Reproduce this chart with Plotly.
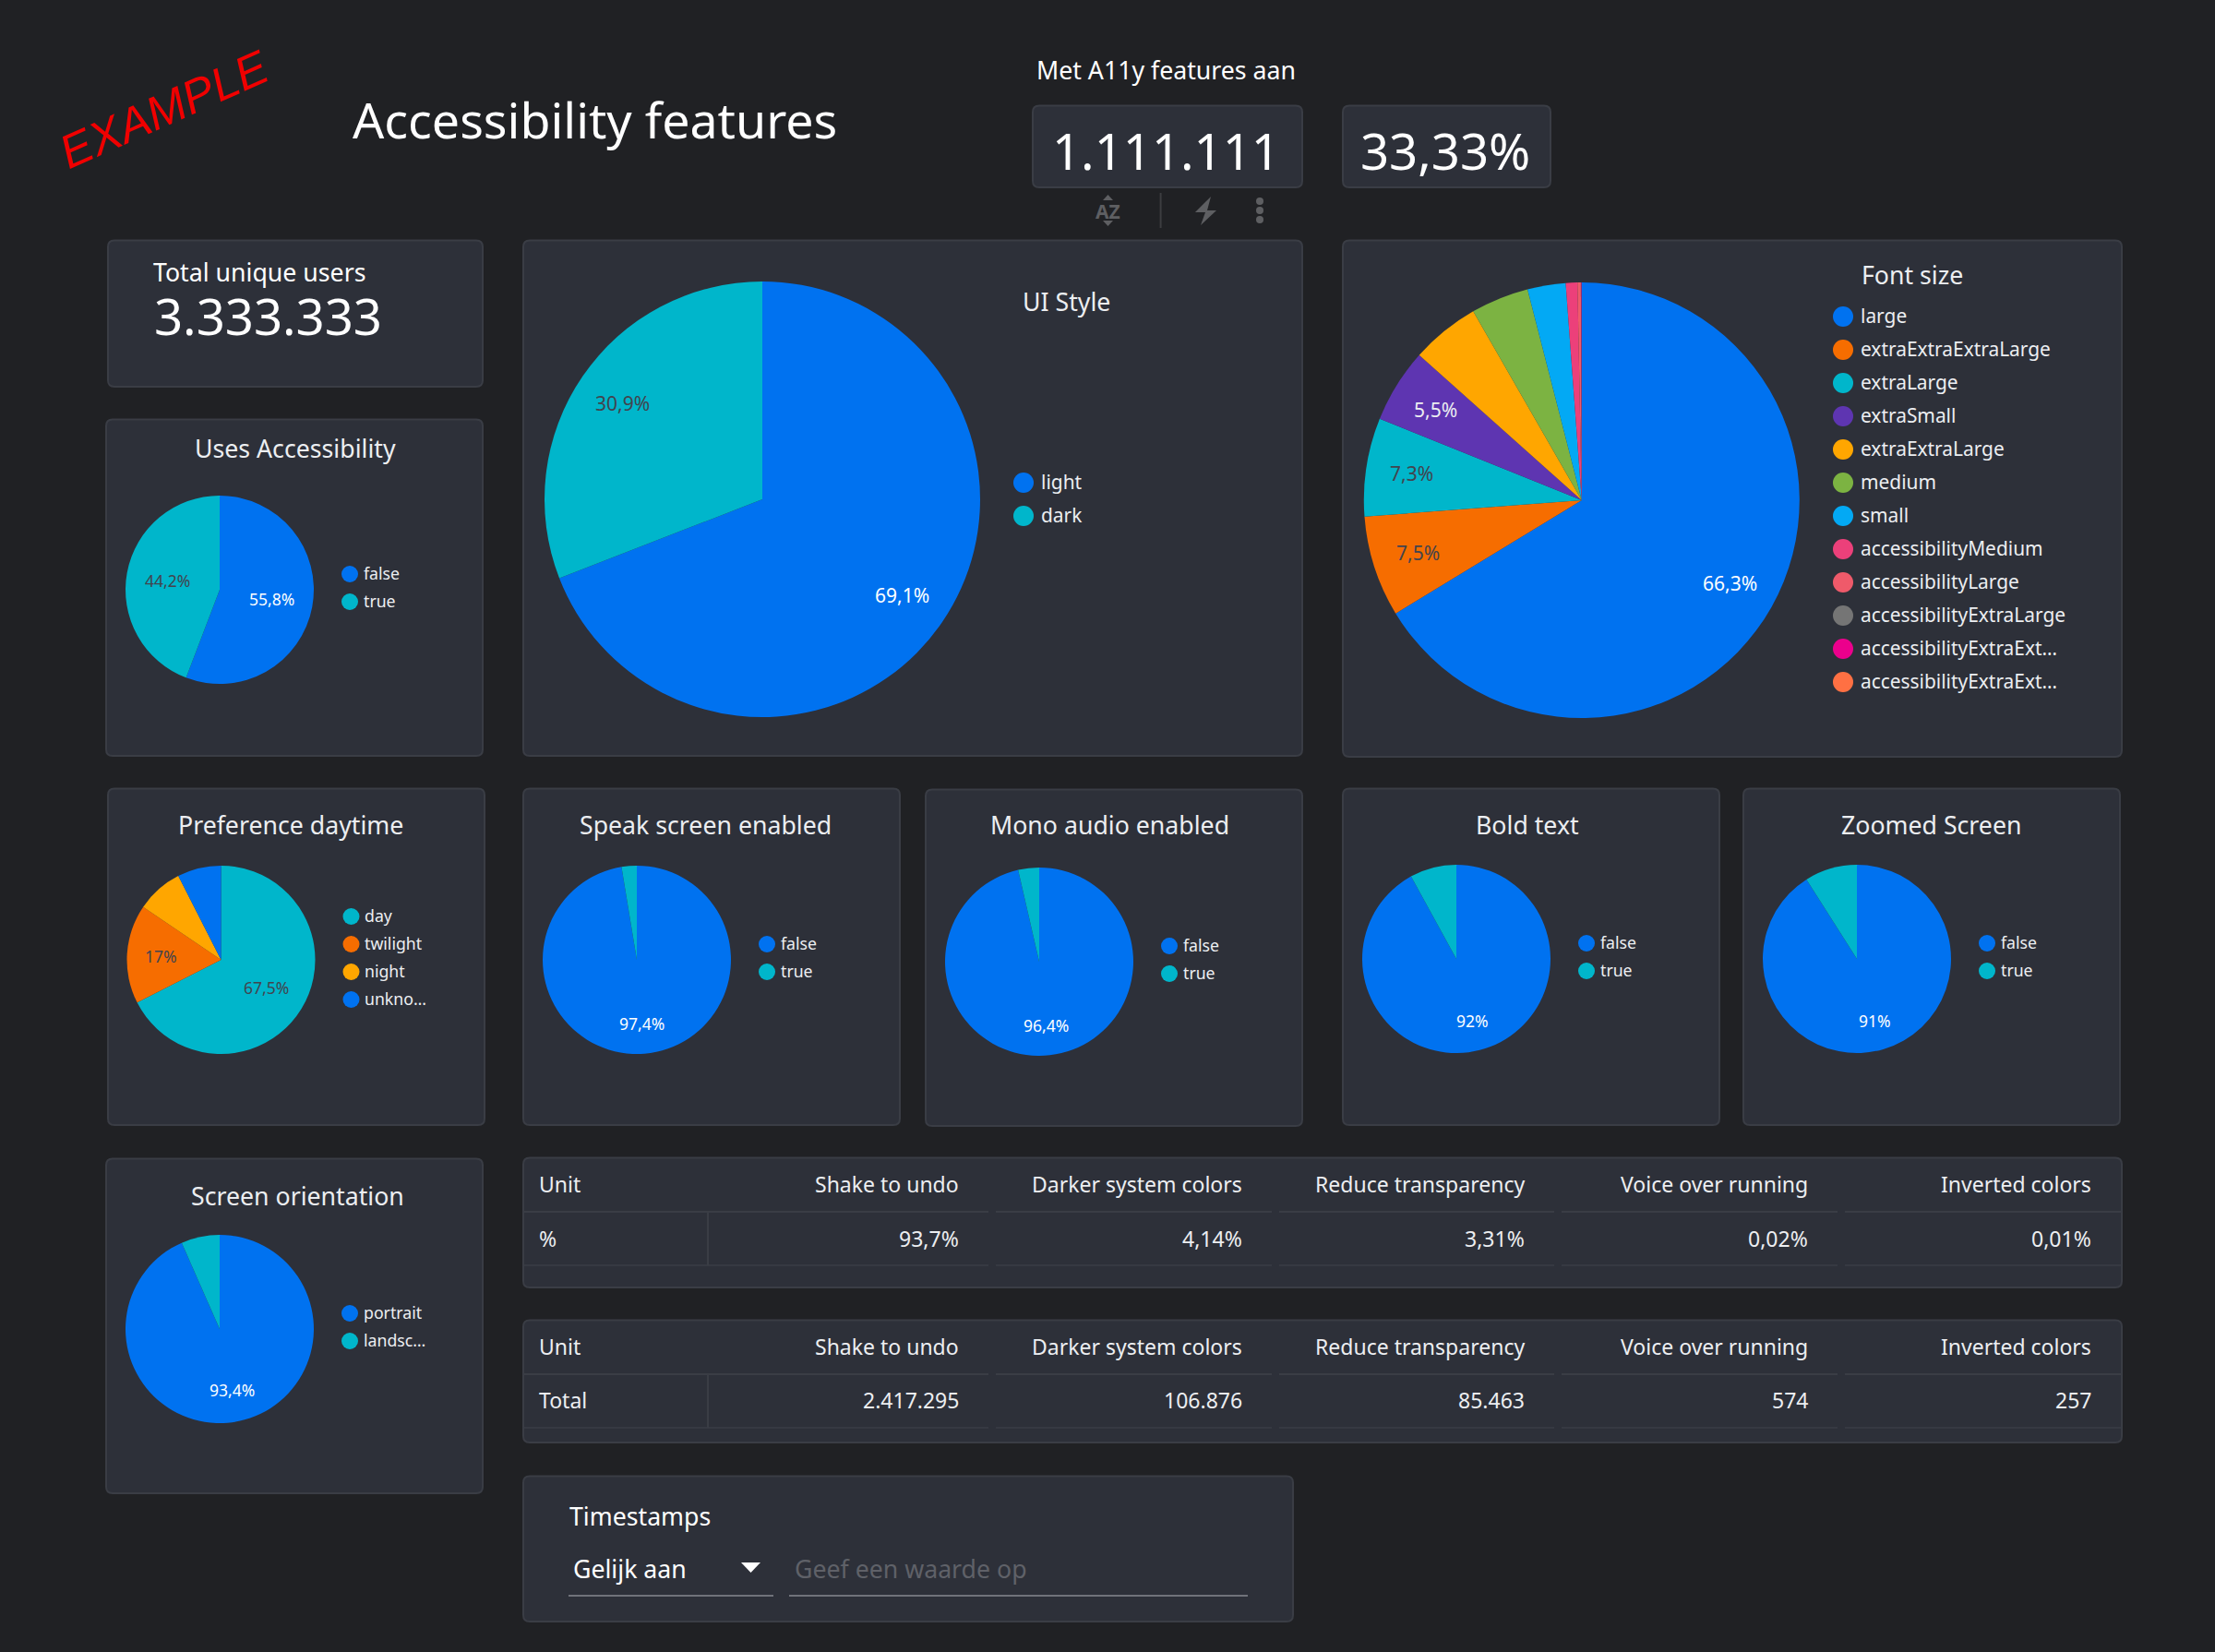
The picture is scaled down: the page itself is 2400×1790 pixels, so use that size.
"""
plot.py - accessibility features dashboard rebuilt with plotly
"""
import math
import plotly.graph_objects as go

W = 2400
H = 1790

BG = "#202124"
PANEL = "#2d3039"
BORDER = "#3a3d45"
WHITE = "#ffffff"
SOFT = "#eceef1"
DARK = "#42444e"
ICON = "#5e5f62"
FONT = "Noto Sans"

BLUE = "#0072f0"
CYAN = "#00b6cb"
ORANGE = "#f66d00"
GOLD = "#ffa600"
PURPLE = "#5e35b1"
GREEN = "#7cb342"
SKY = "#03a9f4"
PINK = "#ec407a"
CORAL = "#ef5a6a"
GREY = "#757575"
MAGENTA = "#ec008c"
SALMON = "#ff7043"

# data
ui_labels = ["light", "dark"]
ui_values = [69.1, 30.9]

font_labels = ["large", "extraExtraExtraLarge", "extraLarge", "extraSmall", "extraExtraLarge", "medium",
               "small", "accessibilityMedium", "accessibilityLarge", "accessibilityExtraLarge",
               "accessibilityExtraExt…", "accessibilityExtraExt…"]
font_values = [66.3, 7.5, 7.3, 5.5, 5.1, 4.3, 2.83, 0.86, 0.25, 0.03, 0.02, 0.01]

uses_labels = ["false", "true"]
uses_values = [55.8, 44.2]

daytime_labels = ["day", "twilight", "night", "unkno…"]
daytime_values = [67.5, 17.0, 8.0, 7.5]

speak_labels = ["false", "true"]
speak_values = [97.4, 2.6]

mono_labels = ["false", "true"]
mono_values = [96.4, 3.6]

bold_labels = ["false", "true"]
bold_values = [92.0, 8.0]

zoomed_labels = ["false", "true"]
zoomed_values = [91.0, 9.0]

orientation_labels = ["portrait", "landsc…"]
orientation_values = [93.4, 6.6]

table_columns = ["Unit", "Shake to undo", "Darker system colors", "Reduce transparency",
                 "Voice over running", "Inverted colors"]
percent_row = ["%", "93,7%", "4,14%", "3,31%", "0,02%", "0,01%"]
total_row = ["Total", "2.417.295", "106.876", "85.463", "574", "257"]

TITLE = 26.7
BIG = 54.4


def px(x):
    return x / W


def py(y):
    return 1 - y / H


shapes = []
annotations = []


def text(x, y, s, size, color=SOFT, anchor="left"):
    annotations.append(dict(
        x=px(x), y=py(y - 0.7), xref="paper", yref="paper", text=s, showarrow=False,
        xanchor=anchor, yanchor="middle", borderpad=0,
        font=dict(family=FONT, size=size, color=color),
    ))


def poly(points, color):
    path = "M " + " L ".join(f"{px(a):.5f} {py(b):.5f}" for a, b in points) + " Z"
    shapes.append(dict(type="path", path=path, xref="paper", yref="paper", fillcolor=color,
                       line=dict(width=0), layer="below"))


def line(x0, y0, x1, y1, color=BORDER, width=2):
    shapes.append(dict(type="line", x0=px(x0), y0=py(y0), x1=px(x1), y1=py(y1), xref="paper", yref="paper",
                       line=dict(color=color, width=width), layer="below"))


def dot(x, y, r, color):
    shapes.append(dict(type="circle", x0=px(x - r), y0=py(y - r), x1=px(x + r), y1=py(y + r),
                       xref="paper", yref="paper", fillcolor=color, line=dict(width=0), layer="below"))


def panel(x0, y0, x1, y1, c=7):
    path = (f"M {px(x0 + c):.5f} {py(y0):.5f} L {px(x1 - c):.5f} {py(y0):.5f} "
            f"Q {px(x1):.5f} {py(y0):.5f} {px(x1):.5f} {py(y0 + c):.5f} "
            f"L {px(x1):.5f} {py(y1 - c):.5f} Q {px(x1):.5f} {py(y1):.5f} {px(x1 - c):.5f} {py(y1):.5f} "
            f"L {px(x0 + c):.5f} {py(y1):.5f} Q {px(x0):.5f} {py(y1):.5f} {px(x0):.5f} {py(y1 - c):.5f} "
            f"L {px(x0):.5f} {py(y0 + c):.5f} Q {px(x0):.5f} {py(y0):.5f} {px(x0 + c):.5f} {py(y0):.5f} Z")
    shapes.append(dict(type="path", path=path, xref="paper", yref="paper", fillcolor=PANEL,
                       line=dict(color=BORDER, width=2), layer="below"))


fig = go.Figure()


def add_pie(cx, cy, r, labels, values, colors, label_at, label_size, label_colors):
    fig.add_trace(go.Pie(
        labels=labels, values=values, sort=False, direction="clockwise", rotation=0,
        marker=dict(colors=colors, line=dict(width=0)), textinfo="none", showlegend=False,
        domain=dict(x=[px(cx - r), px(cx + r)], y=[py(cy + r), py(cy - r)]),
    ))
    # percent labels sit on the middle angle of their slice
    total = sum(values)
    start = 0
    for idx, val, col in zip(range(len(values)), values, label_colors):
        mid = (start + val / 2) / total * 2 * math.pi
        start += val
        if idx in label_at:
            d = label_at[idx] * r
            s = f"{val / total * 100:.3g}%".replace(".", ",")
            text(cx + math.sin(mid) * d, cy - math.cos(mid) * d + 0.7, s, label_size, col, "center")


def add_legend(x, y, labels, colors, dy, rad, size, gap):
    for i, (lab, col) in enumerate(zip(labels, colors)):
        dot(x, y + i * dy, rad, col)
        text(x + gap, y + i * dy, lab, size)


def small_pie(cx, cy, labels, values, colors, label_at, label_colors):
    add_pie(cx, cy, 102, labels, values, colors, label_at, 17.5, label_colors)
    n = len(labels)
    add_legend(cx + 141, cy - 2 - 15 * (n - 1), labels, colors, 30, 9, 17.7, 13.5)


def add_table(y0, y1, y_head, y_line, y_row, y_line2, row):
    panel(567, y0, 2299, y1)
    rights = [583, 1040, 1347, 1653, 1960, 2267]
    spans = [(568, 1071), (1079, 1378), (1386, 1684), (1692, 1991), (1999, 2298)]
    for a, b in spans:
        line(a, y_line, b, y_line)
        line(a, y_line2, b, y_line2, "#363942")
    line(767, y_line, 767, y_line2)
    for i, (name, val) in enumerate(zip(table_columns, row)):
        anchor = "left" if i == 0 else "right"
        text(rights[i], y_head, name, 23, SOFT, anchor)
        text(rights[i], y_row, val, 23, SOFT, anchor)


# panels
panel(117, 260.5, 523, 419)
panel(567, 260.5, 1411, 819)
panel(1455, 260.5, 2299, 820)
panel(115, 454.5, 523, 819)
panel(117, 854.5, 525, 1219)
panel(567, 854.5, 975, 1219)
panel(1003, 855.5, 1411, 1220)
panel(1455, 854.5, 1863, 1219)
panel(1889, 854.5, 2297, 1219)
panel(115, 1255.5, 523, 1618)
panel(1119, 114.5, 1411, 203)
panel(1455, 114.5, 1680, 203)
panel(567, 1599.5, 1401, 1757)

# header
annotations.append(dict(
    x=px(178), y=py(118.5), xref="paper", yref="paper", text="EXAMPLE", showarrow=False, textangle=-24,
    xanchor="center", yanchor="middle",
    font=dict(family="Liberation Sans", size=51, color="#f00000", style="italic"),
))
text(381, 130, "Accessibility features", 53.7, WHITE)
text(1122, 76, "Met A11y features aan", TITLE, WHITE)
text(1264, 164, "1.111.111", BIG, WHITE, "center")
text(1566, 164, "33,33%", BIG, WHITE, "center")
text(165, 295, "Total unique users", TITLE, WHITE)
text(166, 343, "3.333.333", BIG, WHITE)

# toolbar icons under the score card
text(1200.5, 229.5, "<b>AZ</b>", 21, ICON, "center")
poly([(1200.5, 211), (1195, 217), (1206, 217)], ICON)
poly([(1200.5, 245), (1195, 239), (1206, 239)], ICON)
line(1257.6, 209, 1257.6, 247, "#3c3d40", 2)
poly([(1312, 213), (1295, 230), (1306, 230), (1301, 244), (1318, 228), (1308, 228)], ICON)
dot(1365, 218, 4, ICON)
dot(1365, 228, 4, ICON)
dot(1365, 238, 4, ICON)

# big pies
text(1107, 327.5, "UI Style", TITLE, SOFT)
add_pie(826, 541, 236, ui_labels, ui_values, [BLUE, CYAN], {0: 0.78, 1: 0.78}, 21, [WHITE, DARK])
add_legend(1109, 523, ui_labels, [BLUE, CYAN], 36, 11, 20.9, 18)

text(2016, 298, "Font size", TITLE, SOFT)
font_colors = [BLUE, ORANGE, CYAN, PURPLE, GOLD, GREEN, SKY, PINK, CORAL, GREY, MAGENTA, SALMON]
add_pie(1713.8, 542, 236, font_labels, font_values, font_colors, {0: 0.78, 1: 0.79, 2: 0.79, 3: 0.79}, 21,
        [WHITE, DARK, DARK, SOFT] + [DARK] * 8)
add_legend(1997, 343, font_labels, font_colors, 36, 11, 20.9, 18)

# small pies
text(320, 486, "Uses Accessibility", TITLE, SOFT, "center")
small_pie(238, 639, uses_labels, uses_values, [BLUE, CYAN], {0: 0.565, 1: 0.565}, [WHITE, DARK])

text(315, 894, "Preference daytime", TITLE, SOFT, "center")
small_pie(239.5, 1040, daytime_labels, daytime_values, [CYAN, ORANGE, GOLD, BLUE], {0: 0.56, 1: 0.64},
          [DARK, DARK, DARK, WHITE])

text(764, 894, "Speak screen enabled", TITLE, SOFT, "center")
small_pie(690, 1040, speak_labels, speak_values, [BLUE, CYAN], {0: 0.68}, [WHITE, DARK])

text(1202, 894, "Mono audio enabled", TITLE, SOFT, "center")
small_pie(1126, 1042, mono_labels, mono_values, [BLUE, CYAN], {0: 0.68}, [WHITE, DARK])

text(1654.5, 894, "Bold text", TITLE, SOFT, "center")
small_pie(1578, 1039, bold_labels, bold_values, [BLUE, CYAN], {0: 0.68}, [WHITE, DARK])

text(2092, 894, "Zoomed Screen", TITLE, SOFT, "center")
small_pie(2012, 1039, zoomed_labels, zoomed_values, [BLUE, CYAN], {0: 0.68}, [WHITE, DARK])

text(322, 1296, "Screen orientation", TITLE, SOFT, "center")
small_pie(238, 1440, orientation_labels, orientation_values, [BLUE, CYAN], {0: 0.66}, [WHITE, DARK])

# tables
add_table(1254.5, 1395, 1284, 1313, 1343, 1371, percent_row)
add_table(1430.5, 1563, 1460, 1489, 1518, 1547, total_row)

# filter control
text(616, 1643, "Timestamps", TITLE, WHITE)
text(620, 1700, "Gelijk aan", TITLE, WHITE)
text(860, 1700, "Geef een waarde op", TITLE, "#5f6168")
poly([(803, 1693), (824, 1693), (813.5, 1704)], WHITE)
line(616, 1729, 838, 1729, "#70727a", 2)
line(855, 1729, 1352, 1729, "#70727a", 2)

fig.update_layout(
    width=W, height=H,
    margin=dict(l=0, r=0, t=0, b=0),
    paper_bgcolor=BG, plot_bgcolor=BG,
    font=dict(family=FONT, color=SOFT),
    shapes=shapes, annotations=annotations,
)

fig.write_html("out.html", config=dict(displayModeBar=False),
               post_script="document.body.style.margin='0';document.body.style.background='#202124';"
                           "document.documentElement.style.overflow='hidden';")
